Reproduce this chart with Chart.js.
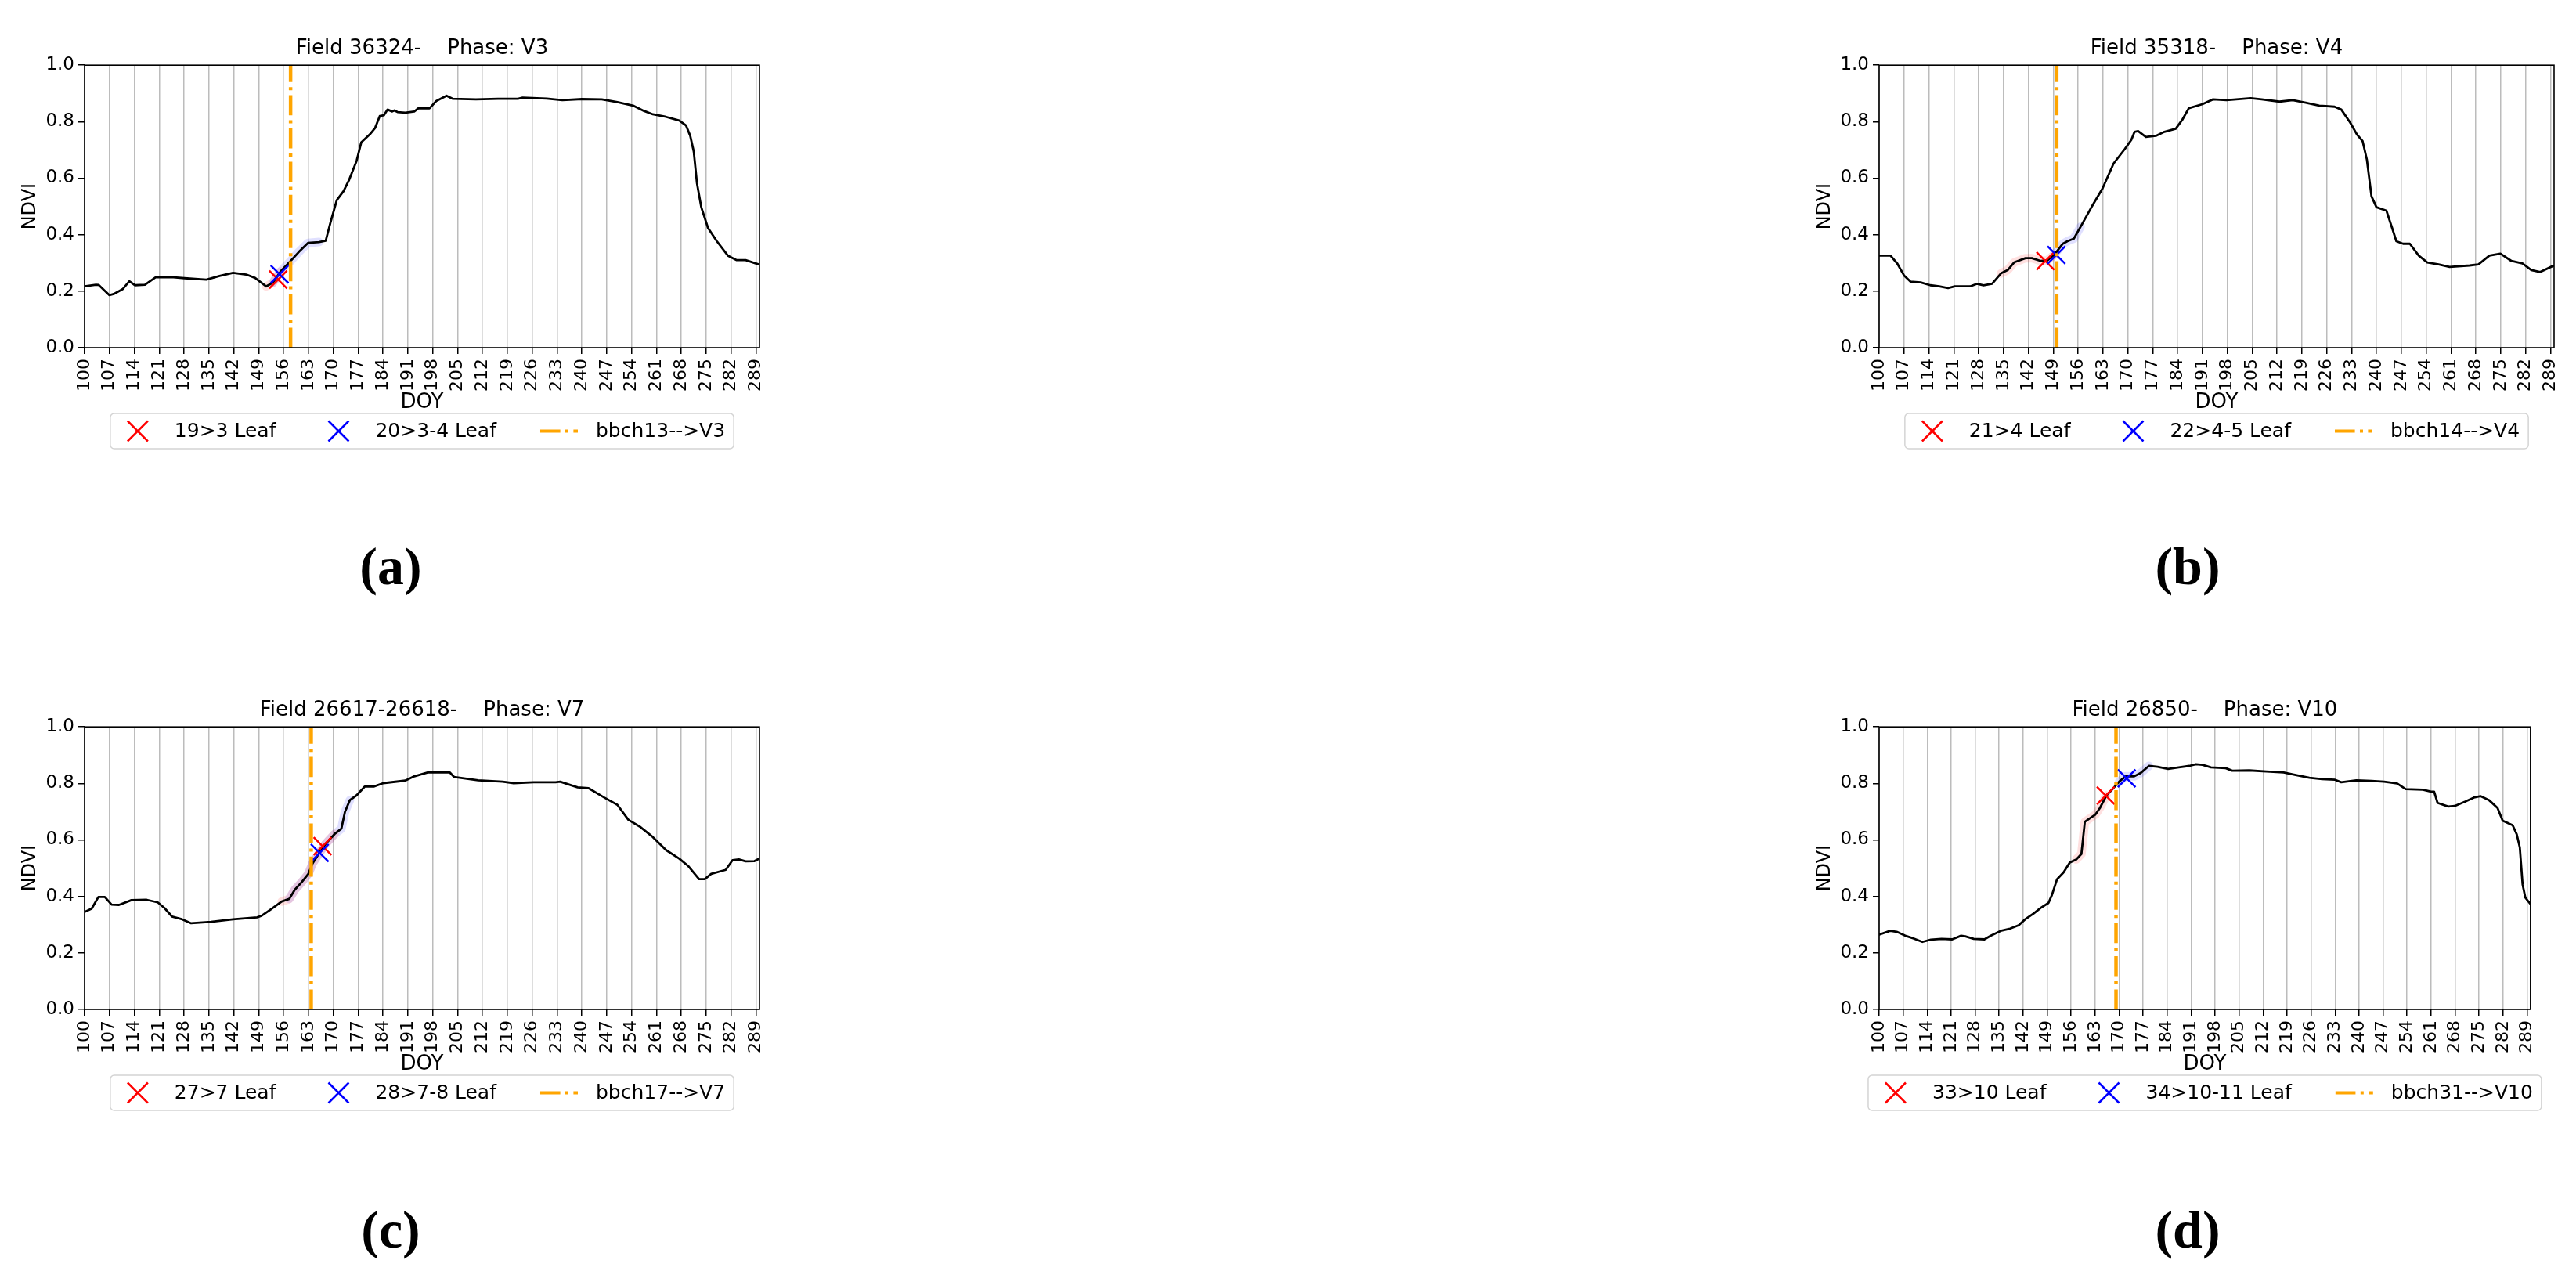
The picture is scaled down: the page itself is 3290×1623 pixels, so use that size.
<!DOCTYPE html>
<html>
<head>
<meta charset="utf-8">
<script src="https://cdn.jsdelivr.net/npm/chart.js@4.4.1/dist/chart.umd.min.js"></script>
<style>
  body { margin: 0; width: 3290px; height: 1623px; background: #fff; position: relative; overflow: hidden; }
  canvas { position: absolute; }
  .tag { position: absolute; font: bold 68px 'Liberation Serif', 'DejaVu Serif', serif; transform: translate(-50%, -50%); line-height: 1; }
</style>
</head>
<body>
<canvas id="chartA" width="998" height="620" style="left:0px;top:0px"></canvas>
<canvas id="chartB" width="998" height="620" style="left:2292px;top:0px"></canvas>
<canvas id="chartC" width="998" height="620" style="left:0px;top:845px"></canvas>
<canvas id="chartD" width="968" height="620" style="left:2292px;top:845px"></canvas>
<div class="tag" style="left:499px;top:723px">(a)</div>
<div class="tag" style="left:2794px;top:723px">(b)</div>
<div class="tag" style="left:499px;top:1570px">(c)</div>
<div class="tag" style="left:2794px;top:1570px">(d)</div>
<script>
const FONT = "'DejaVu Sans', sans-serif";

// shared axes
const xTicks = [100, 107, 114, 121, 128, 135, 142, 149, 156, 163, 170, 177, 184, 191, 198, 205, 212, 219, 226, 233, 240, 247, 254, 261, 268, 275, 282, 289];
const yTicks = [0, 0.2, 0.4, 0.6, 0.8, 1.0];

// (a) Field 36324
const doyA = [100, 103.2, 104, 107, 108.2, 110.7, 112.6, 114.2, 117, 120, 124.4, 128.1, 134.3, 138, 141.8, 145.5, 148, 151.1, 153, 155.2, 158, 160.4, 162.9, 166, 167.9, 169.2, 171, 172.9, 174.4, 176.6, 177.9, 180.3, 181.8, 183.1, 184.3, 185.3, 186.6, 187.2, 188.1, 190.3, 192.8, 194, 197.1, 199, 201.9, 203.7, 210.2, 216.4, 222, 223.3, 230.1, 234.5, 240, 245.6, 250, 254.4, 257.5, 260, 263.7, 267.4, 269.3, 270.5, 271.5, 272.4, 273.6, 275.5, 278, 281.1, 283.6, 286.1, 289.8];
const ndviA = [0.217, 0.223, 0.222, 0.186, 0.19, 0.207, 0.235, 0.221, 0.223, 0.249, 0.25, 0.246, 0.241, 0.254, 0.265, 0.259, 0.247, 0.217, 0.23, 0.27, 0.307, 0.34, 0.371, 0.374, 0.379, 0.442, 0.522, 0.554, 0.592, 0.662, 0.727, 0.755, 0.778, 0.82, 0.823, 0.843, 0.836, 0.84, 0.834, 0.832, 0.836, 0.848, 0.847, 0.873, 0.892, 0.881, 0.879, 0.881, 0.881, 0.885, 0.882, 0.876, 0.88, 0.879, 0.869, 0.857, 0.838, 0.826, 0.817, 0.804, 0.787, 0.75, 0.694, 0.582, 0.498, 0.424, 0.377, 0.326, 0.31, 0.31, 0.295];
const redA = [154.5, 0.241];
const blueA = [154.9, 0.26];
const stageA = 158;

// (b) Field 35318
const doyB = [100, 103.2, 105.1, 107, 108.8, 111.7, 114.4, 116.9, 119.4, 121.3, 125.6, 127.5, 129.4, 131.8, 134.3, 136.2, 138, 141.2, 143, 145.5, 147.4, 149.3, 151.7, 153, 154.8, 156.7, 159.8, 162.9, 166, 169.2, 171, 171.9, 172.9, 175.1, 177.9, 180.3, 183.5, 185.3, 187.2, 191, 194, 197.8, 204.6, 207.7, 212.7, 216.4, 220.1, 223.9, 228.2, 230.1, 232.6, 234.5, 236.1, 237.3, 238.6, 240, 242.8, 244.4, 245.6, 247.5, 249.4, 251.9, 254.3, 257.5, 260.6, 266.2, 268.7, 271.8, 274.9, 278, 281.1, 283.6, 286.1, 289.8];
const ndviB = [0.326, 0.326, 0.298, 0.256, 0.234, 0.231, 0.221, 0.217, 0.211, 0.217, 0.217, 0.226, 0.221, 0.226, 0.263, 0.275, 0.302, 0.317, 0.317, 0.307, 0.309, 0.329, 0.368, 0.377, 0.386, 0.428, 0.498, 0.564, 0.652, 0.704, 0.736, 0.764, 0.767, 0.746, 0.75, 0.764, 0.775, 0.806, 0.848, 0.862, 0.879, 0.876, 0.883, 0.879, 0.871, 0.876, 0.867, 0.857, 0.853, 0.843, 0.797, 0.755, 0.731, 0.666, 0.536, 0.497, 0.485, 0.424, 0.377, 0.368, 0.368, 0.326, 0.302, 0.295, 0.286, 0.291, 0.295, 0.326, 0.333, 0.307, 0.298, 0.275, 0.268, 0.29];
const redB = [146.8, 0.307];
const blueB = [149.9, 0.328];
const stageB = 150;

// (c) Field 26617-26618
const doyC = [100, 102, 103.9, 105.7, 107.6, 109.7, 113.2, 117.5, 120.6, 122.5, 124.6, 127.5, 130, 135.6, 141.8, 148.6, 149.9, 152.4, 155.5, 157.6, 159.2, 161.1, 163, 164.2, 166, 167.9, 170.4, 172.3, 173.3, 174.7, 176.6, 178.9, 181.4, 184.1, 190.3, 192.8, 196.6, 202.8, 204, 210.8, 217.7, 220.8, 226.4, 232.6, 233.9, 238.8, 241.9, 246.3, 250, 253.1, 256.2, 260, 263.7, 267.4, 269.9, 273, 274.6, 276.4, 280.5, 282.4, 284.2, 286.1, 288.6, 289.8];
const ndviC = [0.345, 0.357, 0.398, 0.398, 0.371, 0.37, 0.387, 0.388, 0.379, 0.359, 0.329, 0.319, 0.305, 0.31, 0.319, 0.326, 0.332, 0.354, 0.382, 0.391, 0.424, 0.45, 0.48, 0.517, 0.552, 0.587, 0.621, 0.64, 0.699, 0.741, 0.758, 0.789, 0.789, 0.801, 0.81, 0.825, 0.839, 0.839, 0.823, 0.811, 0.806, 0.801, 0.804, 0.804, 0.806, 0.786, 0.783, 0.75, 0.724, 0.671, 0.648, 0.61, 0.564, 0.534, 0.508, 0.461, 0.461, 0.48, 0.494, 0.528, 0.531, 0.524, 0.525, 0.533];
const redC = [167.0, 0.578];
const blueC = [166.2, 0.554];
const stageC = 163.8;

// (d) Field 26850
const doyD = [100, 103.2, 105.1, 107.6, 110.1, 112.6, 115.1, 118.2, 121.3, 123.9, 125.1, 127.6, 130.7, 132.6, 135.7, 138.2, 140.7, 142.6, 145.1, 147.2, 149.4, 150.4, 151.9, 153.8, 155.6, 157.5, 159, 160, 161.9, 163.1, 164.4, 166.3, 168.1, 170, 171.9, 174.4, 176.2, 178.7, 181.2, 184.3, 187.4, 190.5, 192.4, 194.3, 196.8, 201.1, 203, 208, 213, 218, 221.8, 225.5, 229.2, 233, 234.8, 239.2, 243.6, 247.3, 251.1, 253.6, 258.6, 261, 261.9, 262.9, 266, 267.9, 271, 273.5, 275.4, 277.9, 280.4, 281.9, 284.8, 286, 286.9, 287.7, 288.5, 290];
const ndviD = [0.265, 0.278, 0.275, 0.261, 0.251, 0.239, 0.247, 0.25, 0.248, 0.261, 0.259, 0.25, 0.248, 0.261, 0.279, 0.286, 0.298, 0.319, 0.34, 0.36, 0.377, 0.405, 0.461, 0.485, 0.52, 0.531, 0.55, 0.664, 0.68, 0.69, 0.713, 0.757, 0.78, 0.806, 0.825, 0.825, 0.836, 0.862, 0.859, 0.851, 0.857, 0.862, 0.868, 0.866, 0.857, 0.854, 0.845, 0.846, 0.842, 0.839, 0.829, 0.82, 0.815, 0.813, 0.804, 0.811, 0.809, 0.806, 0.8, 0.78, 0.778, 0.771, 0.771, 0.731, 0.718, 0.72, 0.736, 0.75, 0.755, 0.741, 0.713, 0.668, 0.652, 0.62, 0.573, 0.443, 0.396, 0.373];
const redD = [166.1, 0.757];
const blueD = [172.2, 0.818];
const stageD = 169.1;

// DOY ranges of the faint glow drawn along the curve near each marker
const haloA = [[150, 157], [153, 167]];
const haloB = [[134, 150], [149, 157]];
const haloC = [[153, 172], [157, 175]];
const haloD = [[157, 167], [170, 181]];

Chart.defaults.color = '#000';
Chart.defaults.font.family = FONT;

// black box round the plot area (matplotlib spines)
const frame = {
    id: 'frame',
    afterDatasetsDraw(chart) {
        const { ctx, chartArea: a } = chart;
        ctx.save();
        ctx.strokeStyle = '#000';
        ctx.lineWidth = 1.6;
        ctx.strokeRect(a.left, a.top, a.right - a.left, a.bottom - a.top);
        ctx.restore();
    }
};

// matplotlib-like framed legend under the axis
const legendBox = {
    id: 'legendBox',
    afterDraw(chart, args, opts) {
        const { ctx, chartArea } = chart;
        const items = opts.items || [];
        ctx.save();
        ctx.font = `25px ${FONT}`;
        const widths = items.map(it => ctx.measureText(it.text).width);
        const inner = widths.reduce((s, w) => s + 48 + 23 + w, 0) + 56 * (items.length - 1);
        const boxW = inner + 22, boxH = 45;
        const x0 = (chartArea.left + chartArea.right) / 2 - boxW / 2;
        const y0 = chartArea.bottom + 84;
        ctx.beginPath();
        ctx.roundRect(x0, y0, boxW, boxH, 5);
        ctx.fillStyle = 'rgba(255,255,255,0.8)';
        ctx.fill();
        ctx.strokeStyle = '#d4d4d4';
        ctx.lineWidth = 1.5;
        ctx.stroke();

        const cy = y0 + boxH / 2;
        let x = x0 + 11;
        items.forEach((it, i) => {
            ctx.strokeStyle = it.color;
            if (it.kind === 'cross') {
                const cx = x + 24, h = 13;
                ctx.lineWidth = 2.5;
                ctx.setLineDash([]);
                ctx.beginPath();
                ctx.moveTo(cx - h, cy - h); ctx.lineTo(cx + h, cy + h);
                ctx.moveTo(cx - h, cy + h); ctx.lineTo(cx + h, cy - h);
                ctx.stroke();
            } else {
                ctx.lineWidth = 4;
                ctx.setLineDash([25.6, 6.4, 4, 6.4]);
                ctx.beginPath();
                ctx.moveTo(x, cy); ctx.lineTo(x + 48, cy);
                ctx.stroke();
                ctx.setLineDash([]);
            }
            ctx.fillStyle = '#000';
            ctx.textAlign = 'left';
            ctx.textBaseline = 'middle';
            ctx.fillText(it.text, x + 71, cy + 1);
            x += 71 + widths[i] + 56;
        });
        ctx.restore();
    }
};

function drawPanel(canvasId, p) {
    const curve = p.doy.map((d, i) => ({ x: d, y: p.ndvi[i] }));
    const glow = range => curve.filter(pt => pt.x >= range[0] && pt.x <= range[1]);

    new Chart(document.getElementById(canvasId), {
        type: 'line',
        data: {
            datasets: [
                {
                    data: [{ x: p.stage, y: 0 }, { x: p.stage, y: 1 }],
                    borderColor: '#ffa500', borderWidth: 4.5,
                    borderDash: [25.6, 6.4, 4, 6.4],
                    pointRadius: 0, order: 1
                },
                {
                    data: [{ x: p.blue[0], y: p.blue[1] }], showLine: false,
                    pointStyle: 'crossRot', pointRadius: 16, pointBorderWidth: 2.5,
                    pointBorderColor: '#0000ff', pointBackgroundColor: '#0000ff', order: 2
                },
                {
                    data: [{ x: p.red[0], y: p.red[1] }], showLine: false,
                    pointStyle: 'crossRot', pointRadius: 16, pointBorderWidth: 2.5,
                    pointBorderColor: '#ff0000', pointBackgroundColor: '#ff0000', order: 3
                },
                {
                    data: curve, borderColor: '#000', borderWidth: 2.8,
                    borderJoinStyle: 'round', borderCapStyle: 'round',
                    pointRadius: 0, tension: 0, order: 4
                },
                {
                    data: glow(p.halo[0]), borderColor: 'rgba(255,0,0,0.12)', borderWidth: 11,
                    borderCapStyle: 'round', borderJoinStyle: 'round', pointRadius: 0, order: 5
                },
                {
                    data: glow(p.halo[1]), borderColor: 'rgba(0,0,255,0.12)', borderWidth: 11,
                    borderCapStyle: 'round', borderJoinStyle: 'round', pointRadius: 0, order: 6
                }
            ]
        },
        options: {
            responsive: false,
            animation: false,
            devicePixelRatio: 1,
            layout: { padding: { left: 0, right: p.padRight, top: 0, bottom: 86 } },
            plugins: {
                legend: { display: false },
                tooltip: { enabled: false },
                title: {
                    display: true, text: p.title, fullSize: false,
                    font: { size: 26, weight: 'normal', family: FONT },
                    padding: { top: 47, bottom: 5 }
                },
                legendBox: { items: p.legend }
            },
            scales: {
                x: {
                    type: 'linear', min: 100, max: 290,
                    afterBuildTicks: s => { s.ticks = xTicks.map(v => ({ value: v })); },
                    afterFit: s => { s.height = 90; },
                    ticks: { autoSkip: false, minRotation: 90, maxRotation: 90, padding: 6, font: { size: 22 } },
                    grid: { color: 'rgba(176,176,176,0.85)', lineWidth: 1.5, tickColor: '#000', tickLength: 8 },
                    border: { display: false },
                    title: { display: true, text: 'DOY', font: { size: 26 }, padding: { top: 0, bottom: 4 } }
                },
                y: {
                    min: 0, max: 1,
                    afterBuildTicks: s => { s.ticks = yTicks.map(v => ({ value: v })); },
                    afterFit: s => { s.width = 108; },
                    ticks: { padding: 5, font: { size: 23 }, callback: v => v.toFixed(1) },
                    grid: { drawOnChartArea: false, tickColor: '#000', tickLength: 8, lineWidth: 1.5 },
                    border: { display: false },
                    title: { display: true, text: 'NDVI', font: { size: 24 }, padding: { top: 24, bottom: 0 } }
                }
            }
        },
        plugins: [frame, legendBox]
    });
}

drawPanel('chartA', {
    doy: doyA, ndvi: ndviA, red: redA, blue: blueA, stage: stageA, halo: haloA, padRight: 28,
    title: 'Field 36324-    Phase: V3',
    legend: [
        { text: '19>3 Leaf', kind: 'cross', color: '#ff0000' },
        { text: '20>3-4 Leaf', kind: 'cross', color: '#0000ff' },
        { text: 'bbch13-->V3', kind: 'line', color: '#ffa500' }
    ]
});
drawPanel('chartB', {
    doy: doyB, ndvi: ndviB, red: redB, blue: blueB, stage: stageB, halo: haloB, padRight: 28,
    title: 'Field 35318-    Phase: V4',
    legend: [
        { text: '21>4 Leaf', kind: 'cross', color: '#ff0000' },
        { text: '22>4-5 Leaf', kind: 'cross', color: '#0000ff' },
        { text: 'bbch14-->V4', kind: 'line', color: '#ffa500' }
    ]
});
drawPanel('chartC', {
    doy: doyC, ndvi: ndviC, red: redC, blue: blueC, stage: stageC, halo: haloC, padRight: 28,
    title: 'Field 26617-26618-    Phase: V7',
    legend: [
        { text: '27>7 Leaf', kind: 'cross', color: '#ff0000' },
        { text: '28>7-8 Leaf', kind: 'cross', color: '#0000ff' },
        { text: 'bbch17-->V7', kind: 'line', color: '#ffa500' }
    ]
});
drawPanel('chartD', {
    doy: doyD, ndvi: ndviD, red: redD, blue: blueD, stage: stageD, halo: haloD, padRight: 28,
    title: 'Field 26850-    Phase: V10',
    legend: [
        { text: '33>10 Leaf', kind: 'cross', color: '#ff0000' },
        { text: '34>10-11 Leaf', kind: 'cross', color: '#0000ff' },
        { text: 'bbch31-->V10', kind: 'line', color: '#ffa500' }
    ]
});
</script>
</body>
</html>
